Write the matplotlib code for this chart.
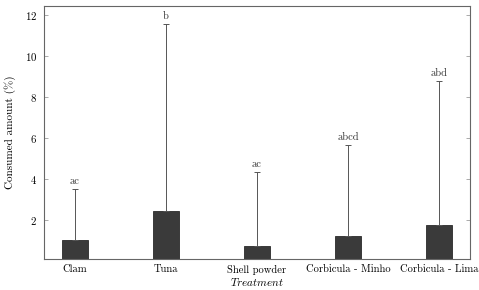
import numpy as np
import matplotlib
matplotlib.use('Agg')
import matplotlib.pyplot as plt

# consumed amount per treatment, mean + upper error
treatments = ['Clam', 'Tuna', 'Shell powder', 'Corbicula - Minho', 'Corbicula - Lima']
means = [1.0, 2.44, 0.72, 1.2, 1.74]
err_top = [3.52, 11.53, 4.33, 5.66, 8.77]
letters = ['ac', 'b', 'ac', 'abcd', 'abd']

plt.rcParams['font.family'] = 'serif'
plt.rcParams['font.serif'] = ['cmr10', 'DejaVu Serif']
plt.rcParams['mathtext.fontset'] = 'cm'
plt.rcParams['axes.formatter.use_mathtext'] = True

fig = plt.figure(figsize=(4.79, 2.9), dpi=100)
ax = fig.add_axes([0.092, 0.107, 0.889, 0.872])

x = np.arange(len(treatments))
means = np.array(means)
upper = np.array(err_top) - means
ax.bar(x, means, width=0.29, color='#3a3a3a', edgecolor='#2a2a2a', linewidth=0.6, zorder=2)
ax.errorbar(x, means, yerr=[np.zeros_like(upper), upper], fmt='none',
            ecolor='#555555', elinewidth=0.7, capsize=2, capthick=0.7, zorder=3)
for xi, top, lab in zip(x, err_top, letters):
    ax.text(xi, top + 0.15, lab, ha='center', va='bottom', fontsize=7.5, color='#333333')

ax.set_xlim(-0.34, 4.34)
ax.set_ylim(0.1, 12.42)
ax.set_xticks(x)
ax.set_xticklabels(treatments, fontsize=7.6)
ax.set_yticks([2, 4, 6, 8, 10, 12])
ax.tick_params(axis='y', labelsize=7.8, direction='in', right=True, length=3, width=0.5,
               color='#888888', pad=5)
ax.tick_params(axis='x', direction='in', top=True, length=0, pad=4)
ax.set_ylabel('Consumed amount (%)', fontsize=8, labelpad=6)
ax.set_xlabel(r'$\mathit{Treatment}$', fontsize=8, labelpad=1)
for s in ax.spines.values():
    s.set_color('#666666')
    s.set_linewidth(0.8)

fig.savefig('out.png', dpi=100)
